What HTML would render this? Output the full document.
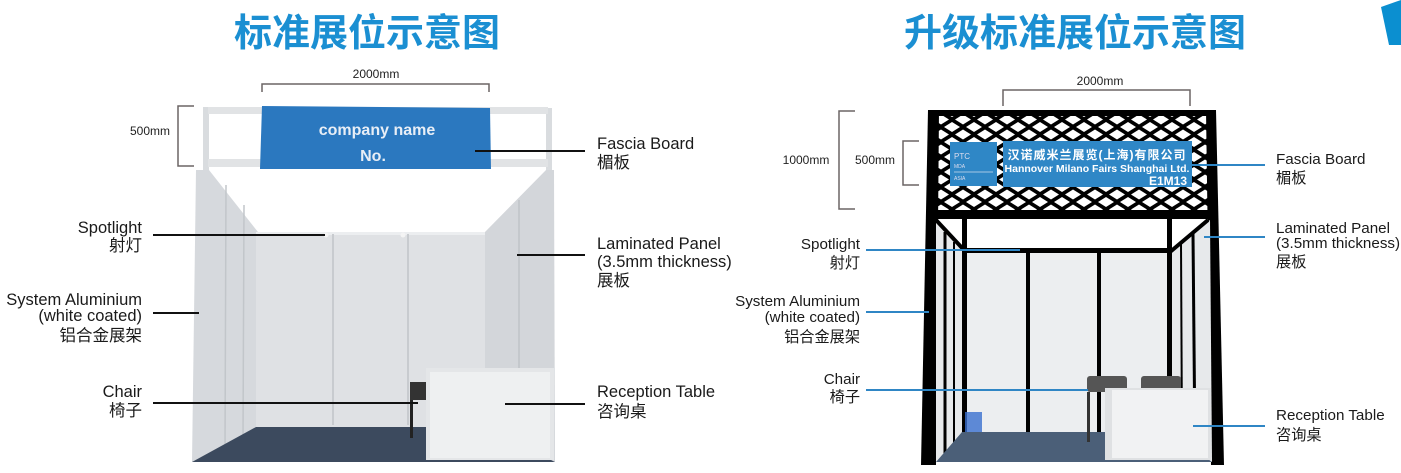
<!DOCTYPE html>
<html><head><meta charset="utf-8"><style>
html,body{margin:0;padding:0;background:#fff;}
svg{display:block;}
text{font-family:"Liberation Sans","Noto Sans CJK SC",sans-serif;}
.l{font-size:16.5px;fill:#1a1a1a;}
.r{font-size:15.2px;fill:#1a1a1a;}
.t{font-size:38px;font-weight:bold;fill:#1b8fd2;}
</style></head><body>
<svg width="1401" height="473" viewBox="0 0 1401 473" xmlns="http://www.w3.org/2000/svg">
<defs>
<pattern id="lat" x="930" y="112" width="22" height="15" patternUnits="userSpaceOnUse">
<rect width="22" height="15" fill="#000"/>
<polygon points="11,2.5 19,7.5 11,12.5 3,7.5" fill="#fff"/>
<polygon points="0,-5 8,0 0,5 -8,0" fill="#fff"/>
<polygon points="22,-5 30,0 22,5 14,0" fill="#fff"/>
<polygon points="0,10 8,15 0,20 -8,15" fill="#fff"/>
<polygon points="22,10 30,15 22,20 14,15" fill="#fff"/>
</pattern>
</defs>

<!-- titles -->
<text x="367" y="46" text-anchor="middle" class="t">标准展位示意图</text>
<text x="1075" y="46" text-anchor="middle" class="t">升级标准展位示意图</text>
<polygon points="1381,7 1401,0 1401,45 1389,45" fill="#0b8fd0"/>

<!-- LEFT BOOTH -->
<rect x="203" y="107" width="6" height="355" fill="#d9dcdf"/>
<rect x="546" y="108" width="6" height="354" fill="#d9dcdf"/>
<rect x="208" y="107" width="340" height="7" fill="#e1e3e5"/>
<rect x="208" y="159" width="340" height="8" fill="#e1e3e5"/>
<polygon points="209,170 258,232 258,430 192,462 196,170" fill="#d6d9dd"/>
<line x1="226" y1="185" x2="225" y2="450" stroke="#c2c6ca" stroke-width="1.5"/>
<line x1="244" y1="205" x2="243" y2="440" stroke="#c2c6ca" stroke-width="1.5"/>
<rect x="256" y="232" width="230" height="196" fill="#dfe1e4"/>
<rect x="256" y="232" width="230" height="3" fill="#eceef0"/>
<line x1="333" y1="234" x2="333" y2="425" stroke="#c8cbcf" stroke-width="2"/>
<line x1="408" y1="234" x2="408" y2="425" stroke="#c8cbcf" stroke-width="2"/>
<circle cx="326" cy="235" r="2.5" fill="#f4f4f4"/><circle cx="403" cy="235" r="2.5" fill="#f4f4f4"/>
<polygon points="485,232 546,170 554,170 555,462 485,428" fill="#d3d6da"/>
<line x1="519" y1="200" x2="519" y2="445" stroke="#c0c4c8" stroke-width="1.5"/>
<polygon points="256,427 486,427 555,462 192,462" fill="#3c4a5e"/>
<rect x="410" y="382" width="16" height="18" fill="#333"/>
<rect x="410" y="400" width="3" height="38" fill="#222"/>
<rect x="426" y="368" width="128" height="92" fill="#e4e6e8"/>
<rect x="430" y="372" width="120" height="86" fill="#eef0f1"/>
<polygon points="262,106 490,108 491,169 260,169" fill="#2b78bf"/>
<text x="377" y="135" text-anchor="middle" style="font-size:16px;font-weight:bold;fill:#e8eef6">company name</text>
<text x="373" y="161" text-anchor="middle" style="font-size:16px;font-weight:bold;fill:#e8eef6">No.</text>
<g stroke="#6b6565" stroke-width="1.5" fill="none">
<polyline points="262,92 262,84 489,84 489,92"/>
<polyline points="194,106 178,106 178,166 194,166"/>
</g>
<text x="376" y="78" text-anchor="middle" style="font-size:12px;fill:#222">2000mm</text>
<text x="150" y="135" text-anchor="middle" style="font-size:12px;fill:#222">500mm</text>
<g stroke="#111" stroke-width="2">
<line x1="153" y1="235" x2="325" y2="235"/>
<line x1="153" y1="313" x2="199" y2="313"/>
<line x1="153" y1="403" x2="418" y2="403"/>
<line x1="475" y1="151" x2="585" y2="151"/>
<line x1="517" y1="255" x2="585" y2="255"/>
<line x1="505" y1="404" x2="585" y2="404"/>
</g>
<g class="l" text-anchor="end">
<text x="142" y="233">Spotlight</text><text x="142" y="251">射灯</text>
<text x="142" y="305">System Aluminium</text><text x="142" y="321">(white coated)</text><text x="142" y="341">铝合金展架</text>
<text x="142" y="397">Chair</text><text x="142" y="416">椅子</text>
</g>
<g class="l">
<text x="597" y="149">Fascia Board</text><text x="597" y="168">楣板</text>
<text x="597" y="249">Laminated Panel</text><text x="597" y="267">(3.5mm thickness)</text><text x="597" y="286">展板</text>
<text x="597" y="397">Reception Table</text><text x="597" y="417">咨询桌</text>
</g>

<!-- RIGHT BOOTH -->
<rect x="928" y="112" width="288" height="106" fill="url(#lat)"/>
<rect x="928" y="110" width="288" height="6" fill="#000"/>
<rect x="928" y="210" width="288" height="9" fill="#000"/>
<polygon points="928,110 939,110 936,465 921,465" fill="#000"/>
<polygon points="1206,110 1216,110 1224,465 1211,465" fill="#000"/>
<rect x="962" y="218" width="5" height="230" fill="#000"/>
<rect x="1167" y="218" width="5" height="230" fill="#000"/>
<rect x="967" y="219" width="200" height="30" fill="#fff"/>
<polygon points="936,220 962,248 962,436 936,462" fill="#e7e9eb"/>
<polygon points="936,220 962,220 962,250" fill="#fff"/>
<line x1="936" y1="220" x2="964" y2="250" stroke="#000" stroke-width="4"/>
<line x1="945" y1="232" x2="945" y2="455" stroke="#000" stroke-width="3"/>
<line x1="954" y1="242" x2="954" y2="445" stroke="#000" stroke-width="2"/>
<polygon points="1172,250 1210,220 1212,462 1172,436" fill="#e7e9eb"/>
<polygon points="1172,220 1208,220 1172,250" fill="#fff"/>
<line x1="1208" y1="220" x2="1170" y2="252" stroke="#000" stroke-width="4"/>
<line x1="1193" y1="234" x2="1195" y2="450" stroke="#000" stroke-width="3"/>
<line x1="1181" y1="242" x2="1182" y2="442" stroke="#000" stroke-width="2"/>
<rect x="967" y="250" width="200" height="183" fill="#eceef0"/>
<rect x="962" y="248" width="210" height="5" fill="#000"/>
<rect x="1026" y="250" width="4" height="182" fill="#000"/>
<rect x="1097" y="250" width="4" height="182" fill="#000"/>
<polygon points="962,432 1172,432 1212,462 936,462" fill="#4b5f78"/>
<rect x="965" y="412" width="17" height="20" fill="#3a6fd0" opacity=".8"/>
<rect x="1087" y="376" width="40" height="16" rx="3" fill="#555"/>
<rect x="1141" y="376" width="40" height="16" rx="3" fill="#555"/>
<rect x="1087" y="392" width="3" height="50" fill="#333"/>
<rect x="1105" y="388" width="106" height="72" fill="#dfe1e3"/>
<rect x="1112" y="390" width="96" height="68" fill="#f1f2f3"/>
<rect x="950" y="142" width="47" height="44" fill="#2f87c6"/>
<text x="954" y="159" style="font-size:8px;fill:#dde">PTC</text>
<text x="954" y="168" style="font-size:5px;fill:#dde">MDA</text>
<line x1="954" y1="172" x2="993" y2="172" stroke="#cde" stroke-width="0.7"/>
<text x="954" y="180" style="font-size:5px;fill:#dde">ASIA</text>
<rect x="1003" y="141" width="189" height="46" fill="#2f87c6"/>
<text x="1097" y="159" text-anchor="middle" style="font-size:12px;font-weight:bold;fill:#fff;letter-spacing:1px">汉诺威米兰展览(上海)有限公司</text>
<text x="1097" y="172" text-anchor="middle" style="font-size:10.5px;font-weight:bold;fill:#fff">Hannover Milano Fairs Shanghai Ltd.</text>
<text x="1187" y="185" text-anchor="end" style="font-size:12px;font-weight:bold;fill:#fff">E1M13</text>
<g stroke="#6b6565" stroke-width="1.5" fill="none">
<polyline points="1003,106 1003,90 1190,90 1190,106"/>
<polyline points="855,111 839,111 839,209 855,209"/>
<polyline points="919,141 903,141 903,185 919,185"/>
</g>
<text x="1100" y="85" text-anchor="middle" style="font-size:12px;fill:#222">2000mm</text>
<text x="806" y="164" text-anchor="middle" style="font-size:12px;fill:#222">1000mm</text>
<text x="875" y="164" text-anchor="middle" style="font-size:12px;fill:#222">500mm</text>
<g stroke="#2f86c5" stroke-width="2">
<line x1="866" y1="250" x2="1020" y2="250"/>
<line x1="866" y1="312" x2="929" y2="312"/>
<line x1="866" y1="390" x2="1088" y2="390"/>
<line x1="1190" y1="165" x2="1265" y2="165"/>
<line x1="1204" y1="237" x2="1265" y2="237"/>
<line x1="1193" y1="426" x2="1265" y2="426"/>
</g>
<g class="r" text-anchor="end">
<text x="860" y="249">Spotlight</text><text x="860" y="268">射灯</text>
<text x="860" y="306">System Aluminium</text><text x="860" y="322">(white coated)</text><text x="860" y="342">铝合金展架</text>
<text x="860" y="384">Chair</text><text x="860" y="402">椅子</text>
</g>
<g class="r">
<text x="1276" y="164">Fascia Board</text><text x="1276" y="183">楣板</text>
<text x="1276" y="233">Laminated Panel</text><text x="1276" y="248">(3.5mm thickness)</text><text x="1276" y="267">展板</text>
<text x="1276" y="420">Reception Table</text><text x="1276" y="440">咨询桌</text>
</g>
</svg>
</body></html>
